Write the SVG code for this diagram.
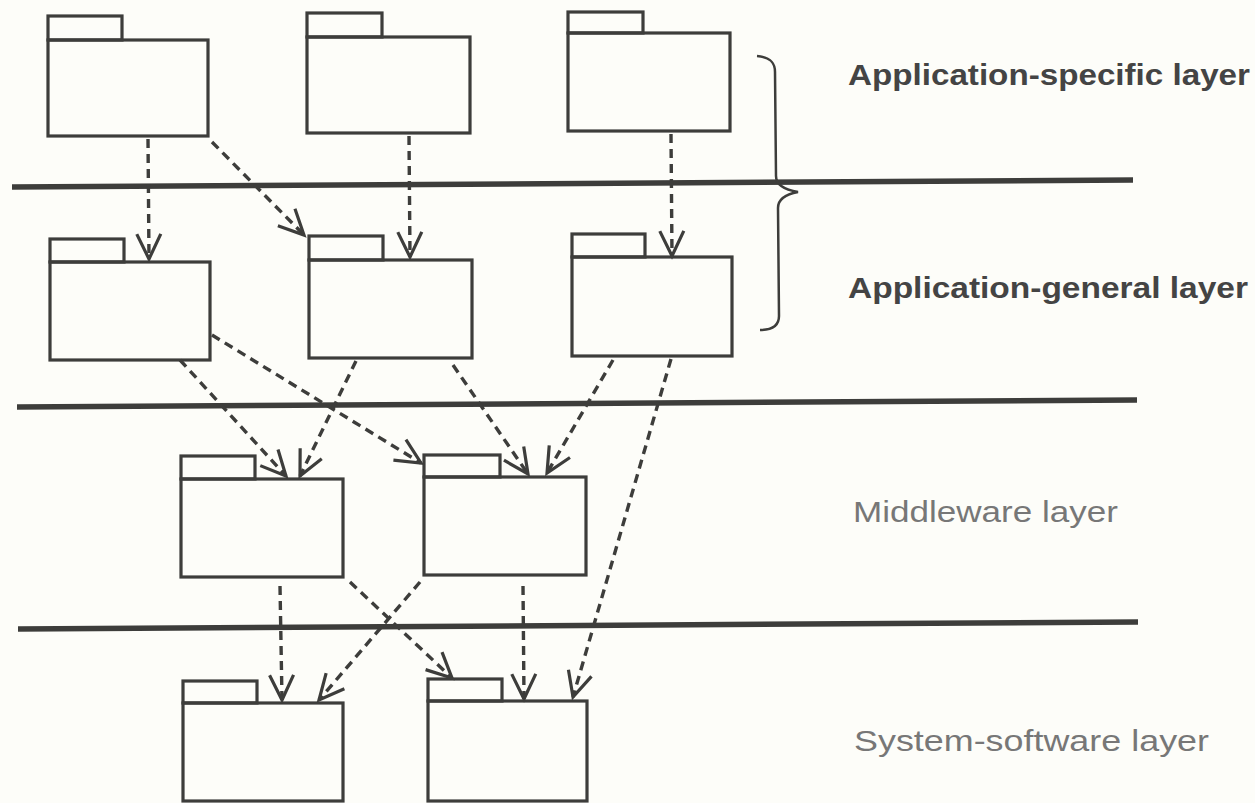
<svg xmlns="http://www.w3.org/2000/svg" width="1255" height="803" viewBox="0 0 1255 803">
<style>
.pkg rect{fill:none;stroke:#3d3d3b;stroke-width:3.2}
.layer{stroke:#3d3d3b;stroke-width:5.5;fill:none}
.dep{stroke:#3d3d3b;stroke-width:3.4;stroke-dasharray:9 6;fill:none;marker-end:url(#open)}
.brace{stroke:#3d3d3b;stroke-width:2.5;fill:none}
.bold{font-family:"Liberation Sans",Arial,sans-serif;font-weight:bold;font-size:30px;fill:#444}
.norm{font-family:"Liberation Sans",Arial,sans-serif;font-size:29px;fill:#777}
</style>
<defs>
<marker id="open" markerUnits="userSpaceOnUse" markerWidth="60" markerHeight="60" refX="0" refY="0" viewBox="-30 -30 60 60" orient="auto" overflow="visible">
<path d="M -25 -12 L 0 0 L -25 12" fill="none" stroke="#3d3d3b" stroke-width="3.2" stroke-dasharray="none"/>
</marker>
</defs>
<rect width="1255" height="803" fill="#fdfdf9"/>
<g id="layers">
<line class="layer" x1="12" y1="187" x2="1133" y2="180"/>
<line class="layer" x1="17" y1="407" x2="1137" y2="400"/>
<line class="layer" x1="18" y1="629" x2="1138" y2="622"/>
<path class="brace" d="M757 56 C770 57 775 62 775 72 L776 176 C776 186 786 190 798 192 C787 194 778 198 778 208 L779 316 C779 326 772 330 760 330"/>
</g>
<g id="A1" class="pkg"><rect x="48" y="16" width="74" height="24"/><rect x="48" y="40" width="160" height="96"/></g>
<g id="A2" class="pkg"><rect x="307" y="13" width="75" height="24"/><rect x="307" y="37" width="163" height="96"/></g>
<g id="A3" class="pkg"><rect x="568" y="12" width="75" height="21"/><rect x="568" y="33" width="162" height="98"/></g>
<g id="G1" class="pkg"><rect x="50" y="239" width="74" height="23"/><rect x="50" y="262" width="160" height="98"/></g>
<g id="G2" class="pkg"><rect x="309" y="236" width="74" height="24"/><rect x="309" y="260" width="163" height="98"/></g>
<g id="G3" class="pkg"><rect x="572" y="234" width="73" height="23"/><rect x="572" y="257" width="160" height="99"/></g>
<g id="M1" class="pkg"><rect x="181" y="456" width="74" height="23"/><rect x="181" y="479" width="162" height="98"/></g>
<g id="M2" class="pkg"><rect x="424" y="455" width="76" height="22"/><rect x="424" y="477" width="162" height="98"/></g>
<g id="S1" class="pkg"><rect x="183" y="681" width="74" height="22"/><rect x="183" y="703" width="160" height="98"/></g>
<g id="S2" class="pkg"><rect x="428" y="679" width="74" height="22"/><rect x="428" y="701" width="159" height="100"/></g>
<g id="connectors">
<line class="dep" x1="148" y1="139" x2="149" y2="259"/>
<line class="dep" x1="212" y1="142" x2="304" y2="235"/>
<line class="dep" x1="409" y1="136" x2="410" y2="257"/>
<line class="dep" x1="671" y1="134" x2="672" y2="256"/>
<line class="dep" x1="180" y1="360" x2="286" y2="476"/>
<line class="dep" x1="212" y1="335" x2="421" y2="463"/>
<line class="dep" x1="356" y1="361" x2="300" y2="476"/>
<line class="dep" x1="453" y1="365" x2="528" y2="474"/>
<line class="dep" x1="613" y1="360" x2="547" y2="473"/>
<line class="dep" x1="671" y1="359" x2="573" y2="697"/>
<line class="dep" x1="280" y1="586" x2="282" y2="700"/>
<line class="dep" x1="350" y1="582" x2="452" y2="678"/>
<line class="dep" x1="420" y1="582" x2="319" y2="700"/>
<line class="dep" x1="523" y1="586" x2="524" y2="699"/>
</g>
<g id="labels">
<text class="bold" x="848" y="85" textLength="402" lengthAdjust="spacingAndGlyphs">Application-specific layer</text>
<text class="bold" x="848" y="298" textLength="400" lengthAdjust="spacingAndGlyphs">Application-general layer</text>
<text class="norm" x="853" y="522" textLength="265" lengthAdjust="spacingAndGlyphs">Middleware layer</text>
<text class="norm" x="854" y="751" textLength="355" lengthAdjust="spacingAndGlyphs">System-software layer</text>
</g>
</svg>
